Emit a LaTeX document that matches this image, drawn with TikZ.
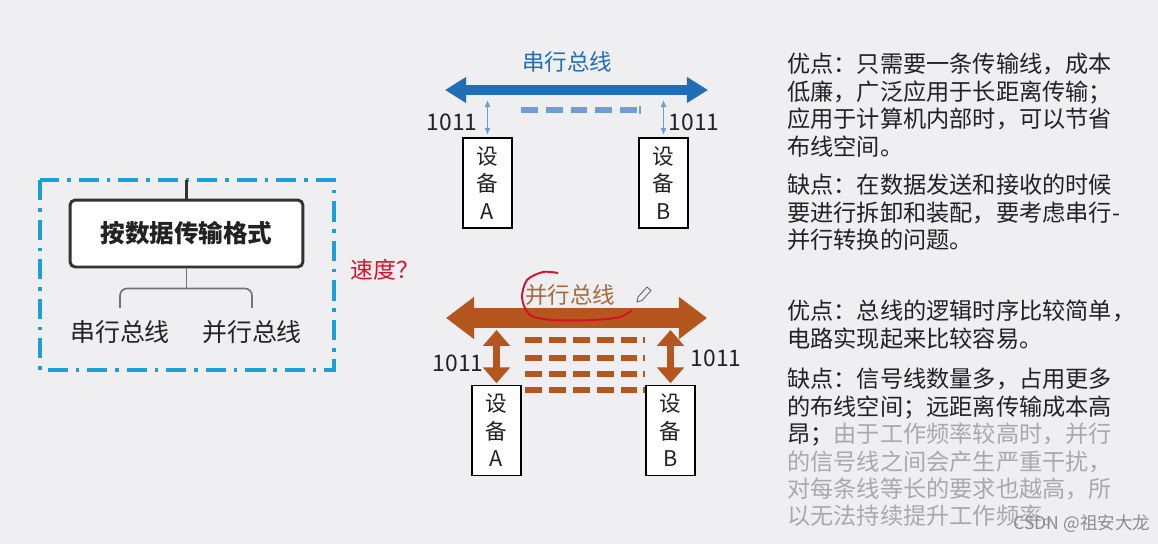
\documentclass[tikz,border=0pt]{standalone}
\usepackage{fontspec}
\setmainfont{Noto Sans CJK SC}
\usepackage{xcolor}
\usepackage{tikz}
\usetikzlibrary{arrows.meta,positioning,calc}
\definecolor{bgpage}{HTML}{EFEFF1}
\definecolor{framecyan}{HTML}{1A9FD6}
\definecolor{serblue}{HTML}{1F6EB6}
\definecolor{serlight}{HTML}{6F9ED4}
\definecolor{parbrown}{HTML}{B5561F}
\definecolor{partitle}{HTML}{A8683A}
\definecolor{inkred}{HTML}{D8102A}
\definecolor{textdark}{HTML}{222222}
\definecolor{textfade}{HTML}{A9A9A9}

\begin{document}
\begin{tikzpicture}[
            x=0.02cm, y=-0.02cm,
            every node/.style={inner sep=0pt, text=textdark},
            frame/.style={draw=framecyan, line width=2pt, dash pattern=on 11.5pt off 4.5pt on 2pt off 4.5pt},
            rootbox/.style={draw=black!80, line width=1.7pt, rounded corners=3pt, fill=white,
                    minimum width=4.66cm, minimum height=1.34cm, font=\fontsize{14}{16}\selectfont\bfseries},
            stem/.style={draw=black!80, line width=1.6pt},
            branch/.style={draw=black!55, line width=0.9pt},
            leaf/.style={font=\fontsize{14.2}{16}\selectfont},
            devbox/.style={draw=black, line width=0.6pt, fill=white, align=center,
                    minimum width=0.98cm, minimum height=1.8cm, font=\fontsize{12.3}{15.6}\selectfont},
            numlbl/.style={font=\fontsize{13}{15}\selectfont},
            title/.style={font=\fontsize{12.8}{15}\selectfont},
            thinarr/.style={draw=serlight, line width=0.6pt, {Latex[length=4pt,width=3.5pt]}-{Latex[length=4pt,width=3.5pt]}},
            thickarr/.style={draw=parbrown, line width=4.5pt, {Triangle[width=15pt,length=9pt]}-{Triangle[width=15pt,length=9pt]}},
            serdash/.style={draw=serlight, line width=3.4pt, dash pattern=on 9.6pt off 4.5pt},
            pardash/.style={draw=parbrown, line width=3.4pt, dash pattern=on 9.6pt off 4pt},
            note/.style={anchor=north west, align=left, font=\fontsize{13.2}{15.6}\selectfont}
        ]
        \fill[bgpage] (0,0) rectangle (1158,544);
        \useasboundingbox (0,0) rectangle (1158,544);

        % ================= pohon: format transmisi =========================
        \draw[frame] (40,180) rectangle (334,370);
        \node[rootbox] (fmt) at (186.5,233.5) {按数据传输格式};
        \coordinate (fmtTop) at (fmt.north |- 0,180);
        \draw[stem] (fmtTop) -- (fmt.north);
        \node[leaf] (serLeaf) at (120,332) {串行总线};
        \node[leaf] (parLeaf) at (252,332) {并行总线};
        \coordinate (fork) at ($(fmt.south)+(0,20)$);
        \draw[branch] (fmt.south) -- (fork);
        \draw[branch, rounded corners=4pt]
        ([yshift=7pt]serLeaf.north) |- (fork) -| ([yshift=7pt]parLeaf.north);

        \node[text=inkred, font=\fontsize{13}{15}\selectfont] (speed) at (385,270) {速度？};

        % ================= bus serial ======================================
        \coordinate (serL) at (445,90);
        \coordinate (serR) at (708,90);
        \draw[serblue, line width=5.7pt, {Triangle[width=14pt,length=12pt]}-{Triangle[width=14pt,length=12pt]}]
        (serL) -- (serR);
        \node[title, text=serblue] (serTitle) at (567,62) {串行总线};

        \node[devbox] (serA) at (487.5,183) {设\\备\\A};
        \node[devbox] (serB) at (663.5,183) {设\\备\\B};
        \coordinate (serTapA) at (487.5,100);
        \coordinate (serTapB) at (663.5,100);
        \draw[thinarr, shorten >=1.5pt] (serTapA) -- (serA);
        \draw[thinarr, shorten >=1.5pt] (serTapB) -- (serB);
        \node[numlbl] (serNumA) at (452,122) {1011};
        \node[numlbl] (serNumB) at (694,122) {1011};

        \draw[serdash] (521,110) -- (638,110);
        \draw[serlight, line width=1pt] (640,106) -- (640,114);

        % ================= bus paralel =====================================
        \coordinate (parL) at (446,318);
        \coordinate (parR) at (707,318);
        \draw[parbrown, line width=11.3pt, {Triangle[width=23pt,length=16pt]}-{Triangle[width=23pt,length=16pt]}]
        (parL) -- (parR);
        \node[title, text=partitle] (parTitle) at (570,295) {并行总线};

        % lingkaran tangan + pensil
        \draw[inkred, line width=1.1pt] plot[smooth] coordinates
        {(558,273) (543,272) (527,280) (522,298) (530,315) (553,320) (593,320) (620,317) (632,310)};
        \draw[black!60, line width=0.5pt]
        (637,302) -- (638,297) -- (647,287) -- (651,290.5) -- (642,300.5) -- cycle;

        \node[devbox] (parA) at (496.5,430.5) {设\\备\\A};
        \node[devbox] (parB) at (670.5,430.5) {设\\备\\B};
        \coordinate (parTapA) at (496.5,330);
        \coordinate (parTapB) at (670.5,330);
        \draw[thickarr, shorten >=1pt] (parTapA) -- (parA);
        \draw[thickarr, shorten >=1pt] (parTapB) -- (parB);
        \node[numlbl] (parNumA) at (458,363) {1011};
        \node[numlbl] (parNumB) at (716,358) {1011};

        \foreach \y in {340,358,374,390} {
                \draw[pardash] (525,\y) -- (637,\y);
                \draw[parbrown, line width=1pt] (644,\y-3) -- (644,\y+3);
            }

        % ================= catatan kanan ===================================
        \node[note] (serPro) at (787,53)
        {优点：只需要一条传输线，成本\\低廉，广泛应用于长距离传输；\\应用于计算机内部时，可以节省\\布线空间。};
        \node[note] (serCon) at (787,174)
        {缺点：在数据发送和接收的时候\\要进行拆卸和装配，要考虑串行-\\并行转换的问题。};
        \node[note] (parPro) at (787,300)
        {优点：总线的逻辑时序比较简单，\\电路实现起来比较容易。};
        \node[note] (parCon) at (787,368)
        {缺点：信号线数量多，占用更多\\的布线空间；远距离传输成本高\\昂；\textcolor{textfade}{由于工作频率较高时，并行}\\
            \textcolor{textfade}{的信号线之间会产生严重干扰，}\\
            \textcolor{textfade}{对每条线等长的要求也越高，所}\\
            \textcolor{textfade}{以无法持续提升工作频率。}};

        \node[font=\fontsize{10}{12}\selectfont, text=black!45] (mark) at (1082,524) {CSDN @祖安大龙};
    \end{tikzpicture}
\end{document}
